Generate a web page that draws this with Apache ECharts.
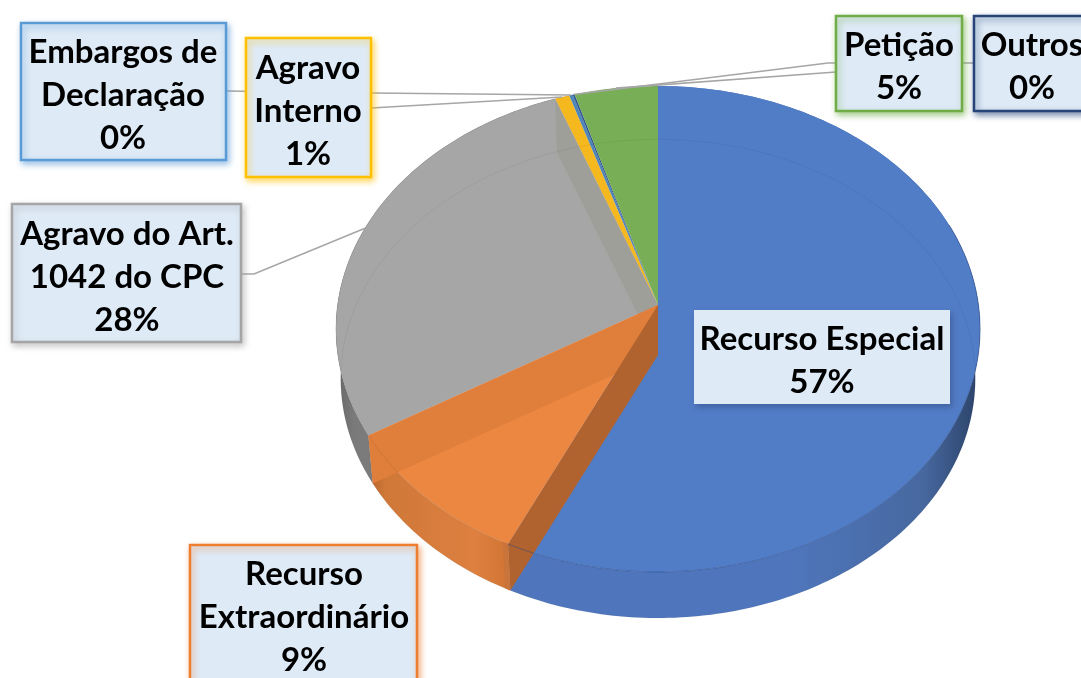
<!DOCTYPE html>
<html>
<head>
<meta charset="utf-8">
<script src="https://cdn.jsdelivr.net/npm/echarts@6/dist/echarts.min.js"></script>
<style>
html, body { margin: 0; padding: 0; background: #fff; overflow: hidden; }
#chart { width: 1081px; height: 678px; }
</style>
</head>
<body>
<div id="chart"></div>
<script>
// valores, em sentido horário a partir do topo
var categories = ['Recurso Especial', 'Recurso\nExtraordinário', 'Agravo do Art.\n1042 do CPC', 'Agravo\nInterno', 'Embargos de\nDeclaração', 'Outros', 'Petição'];
var values = [57.0, 9.4, 27.9, 0.8, 0.2, 0.1, 4.6];
var faceColors = ['#517cc6', '#ec8741', '#a6a6a6', '#f5b81f', '#4f86b8', '#2f528f', '#78ae56'];
var borderColors = [null, '#ed7d31', '#a5a5a5', '#ffc000', '#5b9bd5', '#264478', '#70ad47'];
var wallColors = ['#4a70b4', '#e07f3c', '#9f9f99', '#eaae1c', '#4f86b8', '#2f528f', '#72a552'];
var sideStops = [
    [[0, '#4f76bc'], [0.6, '#4f76bc'], [0.88, '#47689f'], [1, '#2b4268']],
    [[0, '#b5642b'], [0.12, '#cf7838'], [0.75, '#dd8040'], [1, '#d07434']],
    [[0, '#666666'], [0.08, '#7a7a7a'], [1, '#8a8a8a']]
];

// caixas: x, y, largura, altura; centro do texto
var boxes = [
    [694, 310, 256, 94], [190, 545, 227, 150], [12, 204, 229, 138], [246, 38, 125, 139],
    [21, 23, 205, 137], [974, 16, 130, 95], [836, 16, 126, 95]
];
var textCenters = [[822, 361], [304, 617], [127, 277], [308, 111], [123, 95], [1032, 67], [899, 67]];
// guias: pontos fixos antes de chegar à borda da pizza
var leaders = [
    null, null,
    [[241, 274], [254, 274]],
    [[371, 108]],
    [[226, 91], [372, 93]],
    [[974, 63], [828, 63]],
    [[836, 72]]
];

var center = { x: 658, y: 305, rx: 320.5, ry: 240.6, k: 0.0988 };
var depth = 50;
var lowerScale = 0.985;

function rimPoint(deg, lower) {
    var a = deg * Math.PI / 180;
    var u = Math.sin(a), v = -Math.cos(a);
    var s = lower ? lowerScale : 1;
    var d = 1 - center.k * v;
    return [center.x + s * center.rx * u / d, center.y + (lower ? depth : 0) + s * center.ry * v / d];
}
function rimArc(from, to, lower) {
    var pts = [];
    var n = Math.max(2, Math.ceil(Math.abs(to - from)));
    for (var i = 0; i <= n; i++) {
        pts.push(rimPoint(from + (to - from) * i / n, lower));
    }
    return pts;
}
function lowerCenter() {
    return [center.x, center.y + depth];
}

var total = 0;
values.forEach(function (v) { total += v; });
var seriesData = [];
var running = 0;
values.forEach(function (v, i) {
    seriesData.push({ name: categories[i], value: [running, v, i] });
    running += v;
});

function renderSlice(params, api) {
    var i = api.value(2);
    var t0 = api.value(0) / total * 360;
    var t1 = t0 + api.value(1) / total * 360;
    var cp = [center.x, center.y];
    var kids = [];

    // lateral
    if (sideStops[i]) {
        kids.push({
            type: 'polygon', z2: 1,
            shape: { points: rimArc(t0, t1, false).concat(rimArc(t1, t0, true)) },
            style: {
                fill: {
                    type: 'linear', x: 0, y: 0, x2: 1, y2: 0,
                    colorStops: sideStops[i].map(function (s) { return { offset: s[0], color: s[1] }; })
                }
            }
        });
    }
    // face superior; a laranja fica por cima das demais
    kids.push({
        type: 'polygon', z2: i === 1 ? 20 : 10,
        shape: { points: [cp].concat(rimArc(t0, t1, false)) },
        style: { fill: faceColors[i] }
    });
    // paredes internas vistas pela transparência
    if (i === 2) {
        kids.push({
            type: 'polygon', z2: 15,
            shape: { points: [cp, rimPoint(t1), rimPoint(t1, true), lowerCenter()] },
            style: { fill: wallColors[2] }
        });
    }
    if (i === 1) {
        kids.push({
            type: 'polygon', z2: 25,
            shape: { points: [cp, rimPoint(t1), rimPoint(t1, true), lowerCenter()] },
            style: { fill: wallColors[1] }
        });
        kids.push({
            type: 'polygon', z2: 26,
            shape: { points: [cp, rimPoint(t0), rimPoint(t0, true), lowerCenter()] },
            style: { fill: '#b0632f' }
        });
        kids.push({
            type: 'polygon', z2: 27,
            shape: { points: [rimPoint(t0), rimPoint(t0, true), rimPoint(t0 + 1, true), rimPoint(t0 + 1)] },
            style: { fill: '#c9743a' }
        });
    }
    // linha da borda, só na frente da azul
    kids.push({
        type: 'polyline', z2: 30,
        shape: { points: rimArc(i === 0 ? 70 : t0, t1, false) },
        style: { fill: 'none', stroke: i === 0 ? 'rgba(40,70,130,0.5)' : 'rgba(0,0,0,0.08)', lineWidth: 1 }
    });
    // arco inferior, visto pela transparência
    kids.push({
        type: 'polyline', z2: 30,
        shape: { points: rimArc(t0, t1, true) },
        style: { fill: 'none', stroke: 'rgba(0,0,0,0.05)', lineWidth: 1 }
    });

    // guia
    if (leaders[i]) {
        kids.push({
            type: 'polyline', z2: 40,
            shape: { points: leaders[i].concat([rimPoint((t0 + t1) / 2)]) },
            style: { fill: 'none', stroke: '#a6a6a6', lineWidth: 1.6 }
        });
    }
    // caixa e texto
    var b = boxes[i];
    kids.push({
        type: 'rect', z2: 50,
        shape: { x: b[0], y: b[1], width: b[2], height: b[3] },
        style: {
            fill: '#deeaf6',
            stroke: borderColors[i] || 'none',
            lineWidth: borderColors[i] ? 2.5 : 0,
            shadowBlur: 6,
            shadowOffsetX: 2,
            shadowOffsetY: 3,
            shadowColor: borderColors[i] ? borderColors[i] + '99' : 'rgba(40,60,110,0.45)'
        }
    });
    kids.push({
        type: 'text', z2: 60,
        style: {
            x: textCenters[i][0],
            y: textCenters[i][1],
            text: categories[i] + '\n' + Math.round(api.value(1)) + '%',
            font: '700 33px Lato',
            lineHeight: 43,
            fill: '#000',
            align: 'center',
            verticalAlign: 'middle'
        }
    });
    return { type: 'group', children: kids };
}

var myChart = echarts.init(document.getElementById('chart'), null, { renderer: 'canvas' });
myChart.setOption({
    animation: false,
    backgroundColor: '#fff',
    series: [{
        type: 'custom',
        coordinateSystem: 'none',
        silent: true,
        clip: false,
        renderItem: renderSlice,
        data: seriesData
    }]
});
</script>
</body>
</html>
